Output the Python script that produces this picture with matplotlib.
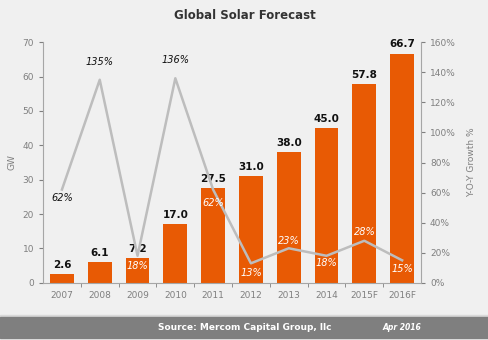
import matplotlib
matplotlib.use('agg')
import matplotlib.pyplot as plt
from matplotlib.patches import Rectangle

years = ['2007', '2008', '2009', '2010', '2011', '2012', '2013', '2014', '2015F', '2016F']
gw = [2.6, 6.1, 7.2, 17.0, 27.5, 31.0, 38.0, 45.0, 57.8, 66.7]
growth = [62, 135, 18, 136, 62, 13, 23, 18, 28, 15]
# label placement (offset in % units from the point), dark or white text
growth_off = [-5.5, 12, -6.5, 12, -9, -6.5, 4.8, -4.8, 5.5, -5.5]
growth_dark = [True, True, False, True, False, False, False, False, False, False]

bar_color = '#e85a04'
line_color = '#bdbdbd'
tick_color = '#7f7f7f'
bg = '#f0f0f0'

fig = plt.figure(figsize=(4.89, 3.4), dpi=100, facecolor=bg)
ax = fig.add_axes([0.088, 0.168, 0.773, 0.708])
ax.set_facecolor(bg)
x = list(range(len(years)))
ax.bar(x, gw, width=0.63, color=bar_color, zorder=2)
for xi, v in zip(x, gw):
    ax.text(xi, v + 1.2, '%.1f' % v, ha='center', va='bottom', fontsize=7.5,
            fontweight='bold', color='#111111')
ax.set_xlim(-0.5, len(years) - 0.5)
ax.set_ylim(0, 70)
ax.set_yticks(range(0, 71, 10))
ax.set_xticks(x)
ax.set_xticklabels(years)
ax.tick_params(axis='both', colors=tick_color, labelsize=6.5, length=3, width=0.8)
ax.tick_params(axis='x', length=0, pad=6)
ax.set_xticks([i + 0.5 for i in x[:-1]], minor=True)
ax.tick_params(axis='x', which='minor', length=3, color=tick_color)
for s in ['top', 'right']:
    ax.spines[s].set_visible(False)
for s in ['left', 'bottom']:
    ax.spines[s].set_color('#a6a6a6')
ax.set_ylabel('GW', fontsize=6.5, color=tick_color, labelpad=4)

ax2 = ax.twinx()
ax2.plot(x, growth, color=line_color, linewidth=1.8, zorder=3)
ax2.set_ylim(0, 160)
ax2.set_yticks(range(0, 161, 20))
ax2.set_yticklabels(['%d%%' % t for t in range(0, 161, 20)])
ax2.tick_params(axis='y', colors=tick_color, labelsize=6.5, length=3, width=0.8)
for s in ['top', 'left', 'bottom']:
    ax2.spines[s].set_visible(False)
ax2.spines['right'].set_color('#a6a6a6')
ax2.set_ylabel('Y-O-Y Growth %', fontsize=6.5, color=tick_color, labelpad=8)
for xi, g, off, d in zip(x, growth, growth_off, growth_dark):
    ax2.text(xi, g + off, '%d%%' % g, ha='center', va='center',
             fontsize=7, style='italic', color='#111111' if d else 'white')

fig.text(0.5, 0.955, 'Global Solar Forecast', ha='center', va='center',
         fontsize=8.5, fontweight='bold', color='#333333')

fig.patches.append(Rectangle((0, 0.072), 1, 0.003, transform=fig.transFigure,
                             color='#d9d9d9', zorder=0))
fig.patches.append(Rectangle((0, 0.005), 1, 0.064, transform=fig.transFigure,
                             color='#7f7f7f', zorder=0))
fig.text(0.5, 0.037, 'Source: Mercom Capital Group, llc', ha='center', va='center',
         fontsize=6.5, fontweight='bold', color='white')
fig.text(0.822, 0.037, 'Apr 2016', ha='center', va='center', fontsize=5.5,
         fontweight='bold', style='italic', color='white')

fig.savefig('out.png', dpi=100, facecolor=bg)
